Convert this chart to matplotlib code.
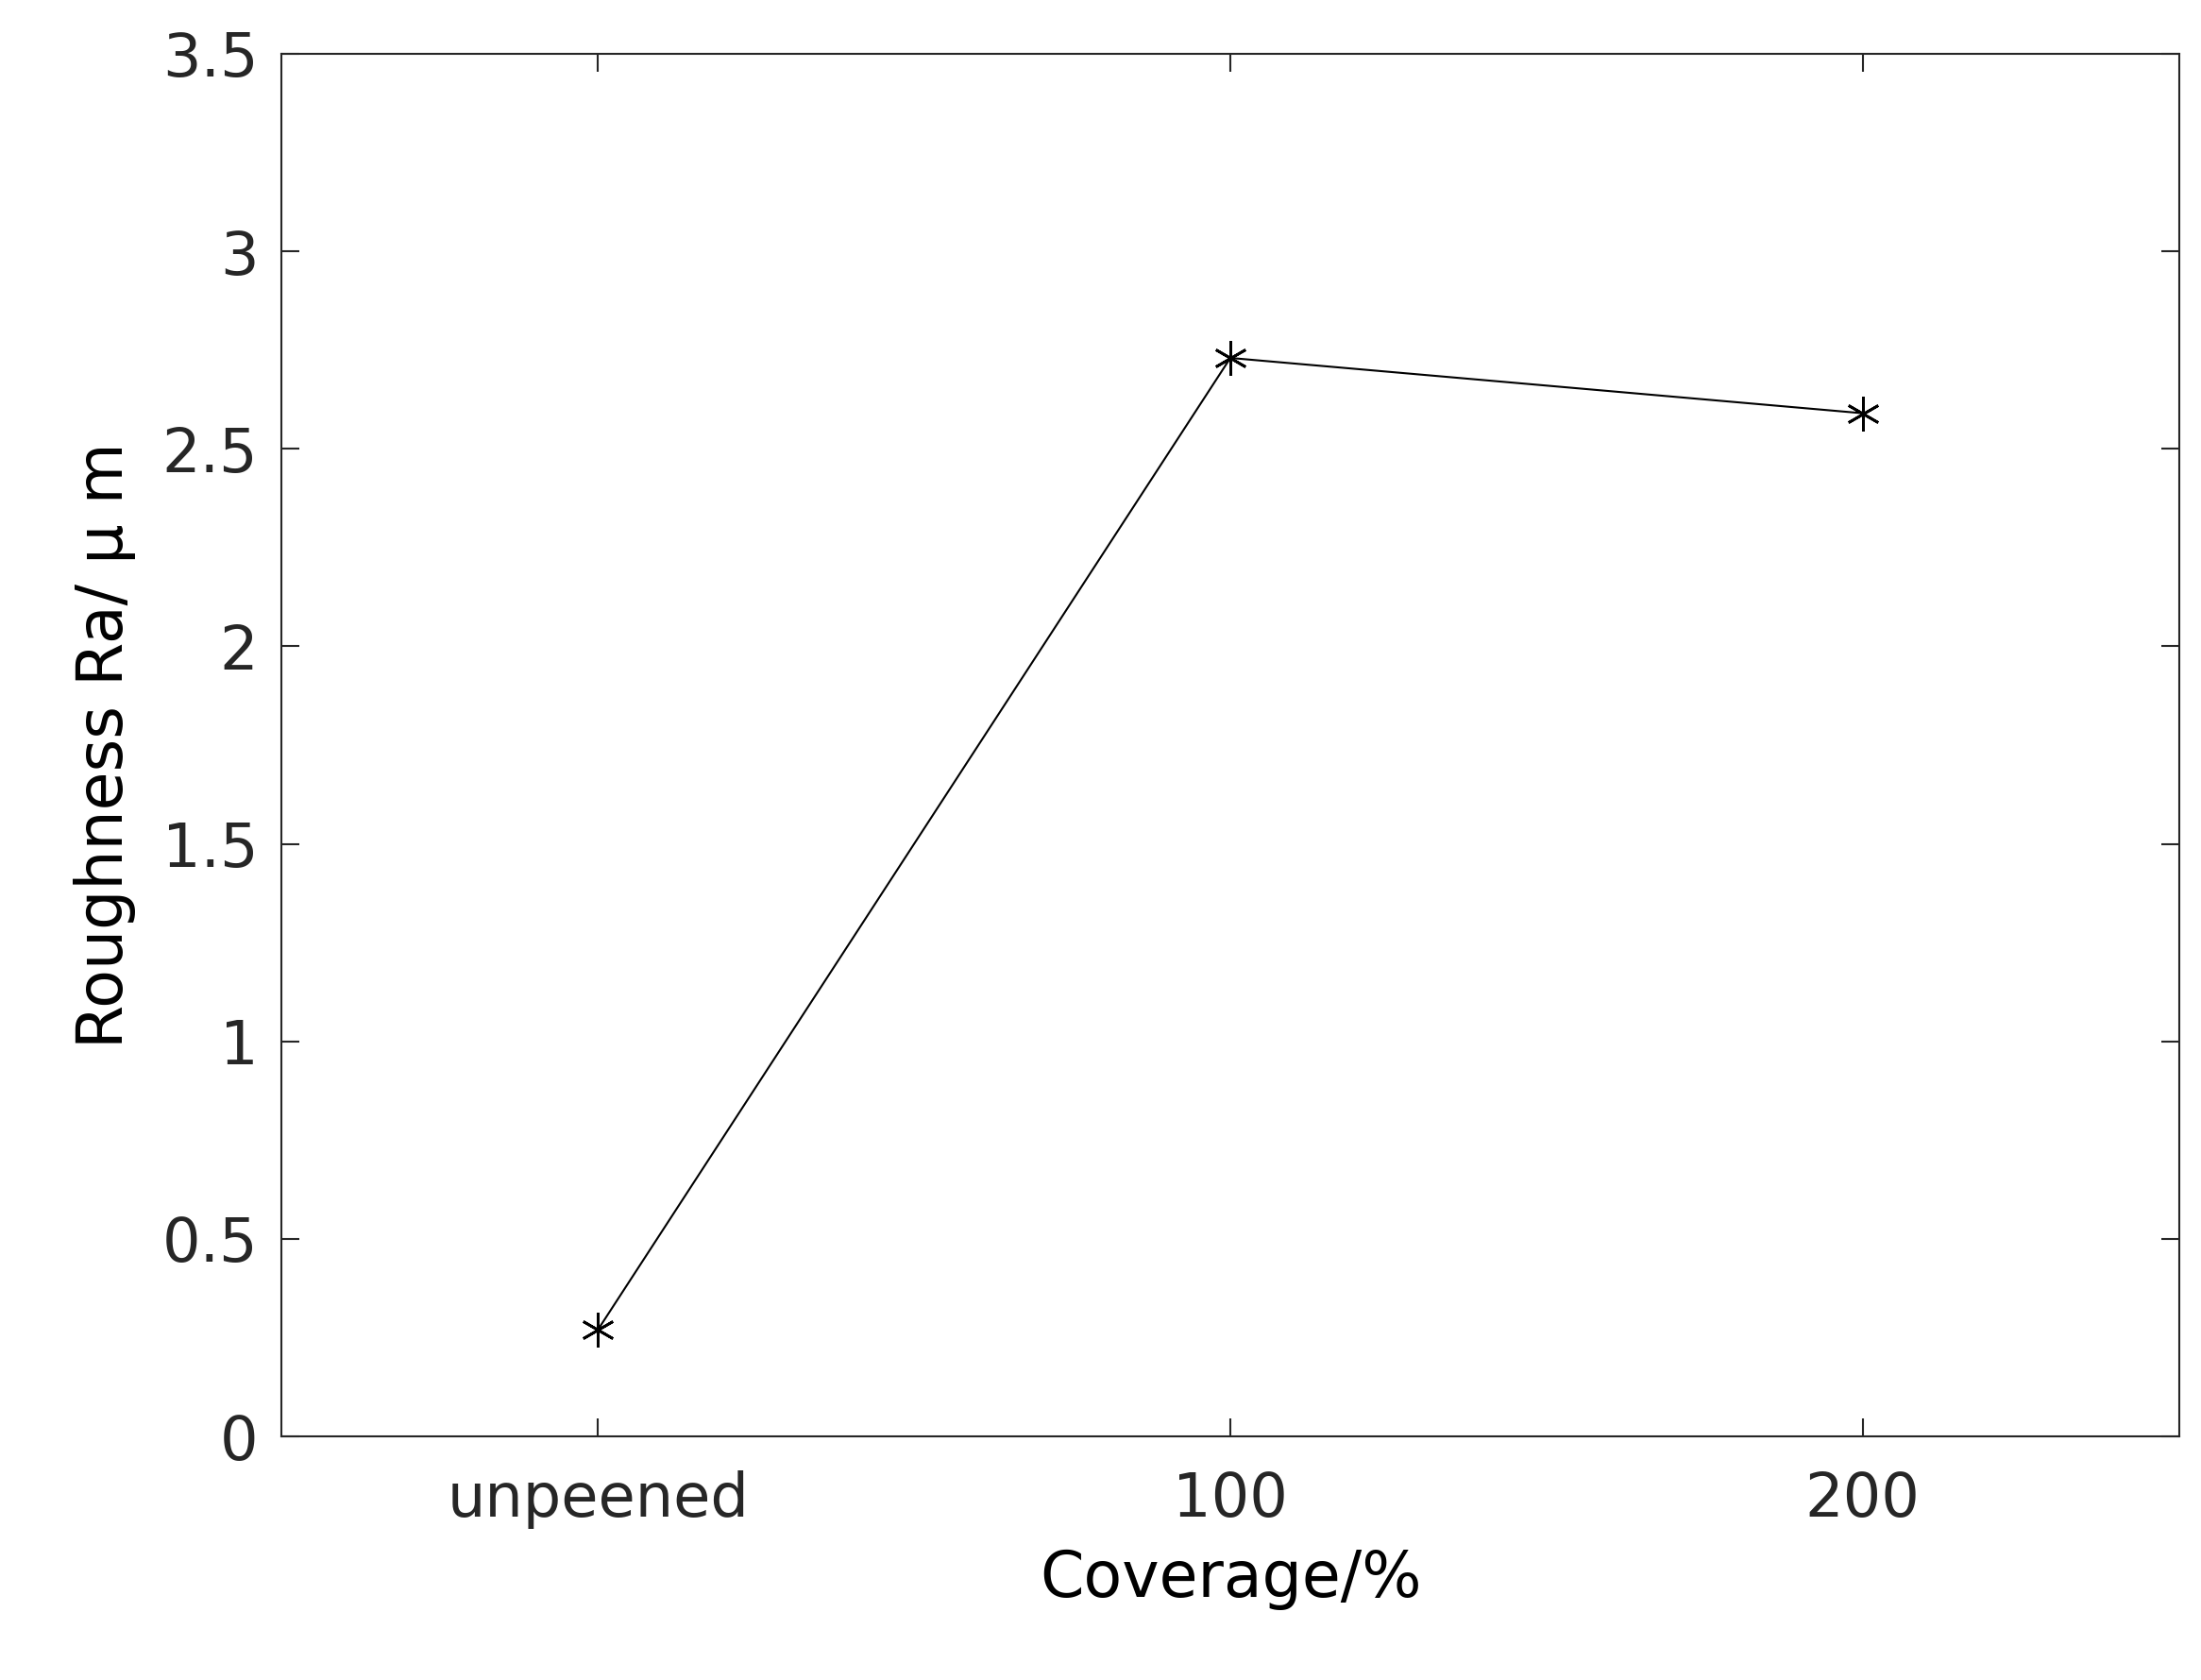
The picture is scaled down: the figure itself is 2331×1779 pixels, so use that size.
import matplotlib
matplotlib.use('Agg')
import matplotlib.pyplot as plt

categories = ['unpeened', '100', '200']
roughness = [0.27, 2.73, 2.59]
yticks = [0, 0.5, 1, 1.5, 2, 2.5, 3, 3.5]
ytick_labels = ['0', '0.5', '1', '1.5', '2', '2.5', '3', '3.5']

fig = plt.figure(figsize=(23.31, 17.79), dpi=100)
ax = fig.add_axes([0.128, 0.145, 0.862, 0.823])

x = list(range(len(categories)))
ax.plot(x, roughness, color='black', linewidth=1.5, marker=(6, 2, 0),
        markersize=26, markeredgewidth=2)

ax.set_xlim(-0.5, 2.5)
ax.set_ylim(0, 3.5)
ax.set_xticks(x)
ax.set_xticklabels(categories)
ax.set_yticks(yticks)
ax.set_yticklabels(ytick_labels)
ax.tick_params(direction='in', length=14, width=1.5, labelsize=46,
               top=True, right=True, pad=18, colors='#262626')
ax.tick_params(axis='x', pad=26)
for s in ax.spines.values():
    s.set_linewidth(1.5)
    s.set_color('#262626')

ax.set_xlabel('Coverage/%', fontsize=48, labelpad=14)
ax.set_ylabel('Roughness Ra/ μ m', fontsize=48, labelpad=20)

plt.savefig('out.png', dpi=100)
plt.close()
